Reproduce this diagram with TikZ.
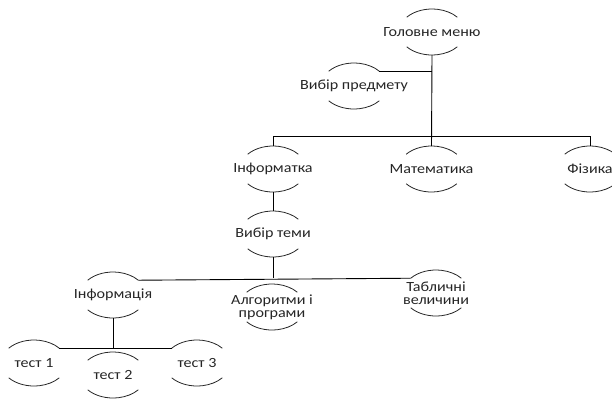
\documentclass[tikz,border=0pt]{standalone}
\usepackage{fontspec}
\newfontfamily\carl[FakeStretch=1.15]{Carlito}
\usetikzlibrary{positioning}
\tikzstyle{menu}=[font={\carl\fontsize{14pt}{13pt}\selectfont}, align=center, inner sep=0pt, text=black!85]
\tikzstyle{rim}=[draw, line width=0.8pt, black!85]
\tikzstyle{link}=[draw, line width=0.9pt]
% top and bottom arcs round a menu item
\newcommand{\menuarcs}[1]{%
	\coordinate (#1 top) at ([yshift=23pt]#1.center);
	\coordinate (#1 bot) at ([yshift=-23pt]#1.center);
	\coordinate (#1 tl) at ([shift={(140:33pt and 23pt)}]#1.center);
	\coordinate (#1 tr) at ([shift={(40:33pt and 23pt)}]#1.center);
	\path[rim] (#1 tl) arc[start angle=140, end angle=40, x radius=33pt, y radius=23pt];
	\path[rim] ([shift={(220:33pt and 23pt)}]#1.center) arc[start angle=220, end angle=320, x radius=33pt, y radius=23pt];
}

\begin{document}
\begin{tikzpicture}[x=1pt, y=-1pt, node distance=158.5pt]
	\useasboundingbox (0,0) rectangle (612,400);
	\node[menu] (main) at (432,32) {Головне меню};
	\node[menu] (subj) at (354,86) {Вибір предмету};
	\node[menu] (inf) at (273,169) {Інформатка};
	\node[menu, right of=inf] (math) {Математика};
	\node[menu, right of=math] (phys) {Фізика};
	\node[menu, below of=inf, node distance=65pt] (topic) {Вибір теми};
	\node[menu] (info) at (113,295) {Інформація};
	\node[menu] (algo) at (272,307) {Алгоритми і\\програми};
	\node[menu] (tab) at (436,293) {Табличні\\величини};
	\node[menu] (test1) at (34,363) {тест 1};
	\node[menu] (test2) at (113,375) {тест 2};
	\node[menu] (test3) at (197,363) {тест 3};
	\foreach \n in {main, subj, inf, math, phys, topic, info, algo, tab, test1, test2, test3}
		\menuarcs{\n};
	\path[link] (main bot) -- (math top);
	\path[link] (subj tr) -- (subj tr -| main bot);
	\path[link] (inf top) -- ++(0,-10) -| (phys top);
	\path[link] (inf bot) -- (topic top);
	\path[link] (info tr) -- (tab tl);
	\path[link] (topic bot) -- (topic bot |- tab tl);
	\path[link] (test1 tr) -- (test3 tl);
	\path[link] (info bot) -- (info bot |- test1 tr);
\end{tikzpicture}
\end{document}
